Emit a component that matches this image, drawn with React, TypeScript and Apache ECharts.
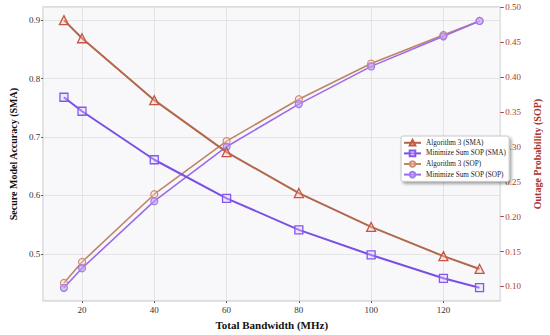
import React, { useEffect, useRef } from "react";
import * as echarts from "echarts";

const bandwidths = [15, 20, 40, 60, 80, 100, 120, 130];
const alg3SMA = [0.9, 0.869, 0.763, 0.674, 0.604, 0.546, 0.496, 0.474];
const minSopSMA = [0.768, 0.744, 0.661, 0.595, 0.541, 0.498, 0.458, 0.442];
const alg3SOP = [0.105, 0.135, 0.232, 0.308, 0.368, 0.419, 0.46, 0.48];
const minSopSOP = [0.098, 0.126, 0.222, 0.3, 0.361, 0.415, 0.458, 0.48];

const seriesNames = [
  "Algorithm 3 (SMA)",
  "Minimize Sum SOP (SMA)",
  "Algorithm 3 (SOP)",
  "Minimize Sum SOP (SOP)",
];

const FONT = "'Liberation Serif', 'DejaVu Serif', serif";

const pairs = (ys: number[]) => bandwidths.map((x, i) => [x, ys[i]]);

export default function App() {
  const ref = useRef<HTMLDivElement>(null);
  useEffect(() => {
    if (!ref.current) return;
    const chart = echarts.init(ref.current, undefined, { renderer: "svg" });
    chart.setOption({
      animation: false,
      backgroundColor: "#ffffff",
      grid: {
        left: 28,
        right: 32,
        top: 7,
        bottom: 26,
        show: true,
        backgroundColor: "#f8f8fa",
        borderColor: "#cfcfcf",
        borderWidth: 1.5,
      },
      legend: {
        orient: "vertical",
        left: 401,
        top: 136,
        data: seriesNames,
        backgroundColor: "#ffffff",
        borderColor: "#c8c8c8",
        borderWidth: 1,
        borderRadius: 2,
        shadowBlur: 3,
        shadowColor: "rgba(0,0,0,0.35)",
        shadowOffsetX: 2,
        shadowOffsetY: 2,
        padding: [3, 3, 3, 2],
        itemWidth: 17,
        itemHeight: 7,
        itemGap: 3,
        textStyle: { fontFamily: FONT, fontSize: 7.2, color: "#222" },
      },
      xAxis: {
        type: "value",
        min: 9.25,
        max: 135.75,
        minInterval: 20,
        maxInterval: 20,
        name: "Total Bandwidth (MHz)",
        nameLocation: "middle",
        nameGap: 13,
        nameTextStyle: { fontFamily: FONT, fontSize: 11, fontWeight: "bold", color: "#111" },
        axisLine: { show: false },
        axisTick: { show: true, length: 2, lineStyle: { color: "#555" } },
        axisLabel: {
          fontFamily: FONT,
          fontSize: 9,
          color: "#333",
          margin: 4,
          showMinLabel: false,
          showMaxLabel: false,
        },
        splitLine: { show: true, lineStyle: { color: "#e4e4e4", width: 1 } },
      },
      yAxis: [
        {
          type: "value",
          min: 0.419,
          max: 0.9225,
          minInterval: 0.1,
          maxInterval: 0.1,
          name: "Secure Model Accuracy (SMA)",
          nameLocation: "middle",
          nameGap: 21,
          nameTextStyle: { fontFamily: FONT, fontSize: 10, fontWeight: "bold", color: "#111" },
          axisLine: { show: false },
          axisTick: { show: true, length: 2, lineStyle: { color: "#555" } },
          axisLabel: {
            fontFamily: FONT,
            fontSize: 9,
            color: "#333",
            margin: 3,
            showMinLabel: false,
            showMaxLabel: false,
          },
          splitLine: { show: true, lineStyle: { color: "#e4e4e4", width: 1 } },
        },
        {
          type: "value",
          position: "right",
          min: 0.079,
          max: 0.5,
          minInterval: 0.05,
          maxInterval: 0.05,
          name: "Outage Probability (SOP)",
          nameLocation: "middle",
          nameGap: 23,
          nameRotate: 90,
          nameTextStyle: { fontFamily: FONT, fontSize: 10, fontWeight: "bold", color: "#a8322a" },
          axisLine: { show: false },
          axisTick: { show: true, length: 3.5, lineStyle: { color: "#b04030" } },
          axisLabel: {
            fontFamily: FONT,
            fontSize: 9,
            color: "#a8402f",
            margin: 5,
            showMinLabel: false,
            formatter: (v: number) => v.toFixed(2),
          },
          splitLine: { show: false },
        },
      ],
      series: [
        {
          name: seriesNames[0],
          type: "line",
          yAxisIndex: 0,
          data: pairs(alg3SMA),
          symbol: "triangle",
          symbolSize: 9,
          lineStyle: { color: "#b0674a", width: 2 },
          itemStyle: { color: "rgba(255,200,200,0.35)", borderColor: "#c9553f", borderWidth: 1.3 },
          z: 4,
        },
        {
          name: seriesNames[1],
          type: "line",
          yAxisIndex: 0,
          data: pairs(minSopSMA),
          symbol: "rect",
          symbolSize: 8,
          lineStyle: { color: "#7a4fe6", width: 2 },
          itemStyle: { color: "rgba(220,210,255,0.35)", borderColor: "#8656ef", borderWidth: 1.3 },
          z: 4,
        },
        {
          name: seriesNames[2],
          type: "line",
          yAxisIndex: 1,
          data: pairs(alg3SOP),
          symbol: "circle",
          symbolSize: 7,
          lineStyle: { color: "#bf8468", width: 1.6 },
          itemStyle: { color: "rgba(255,220,210,0.4)", borderColor: "#d28a72", borderWidth: 1.2 },
          z: 3,
        },
        {
          name: seriesNames[3],
          type: "line",
          yAxisIndex: 1,
          data: pairs(minSopSOP),
          symbol: "circle",
          symbolSize: 7,
          lineStyle: { color: "#9a6bea", width: 1.6 },
          itemStyle: { color: "rgba(190,160,245,0.6)", borderColor: "#a27af0", borderWidth: 1.2 },
          z: 3,
        },
      ],
    });
    return () => chart.dispose();
  }, []);
  return <div ref={ref} style={{ width: 550, height: 335, position: "absolute", left: 0, top: 0 }} />;
}
